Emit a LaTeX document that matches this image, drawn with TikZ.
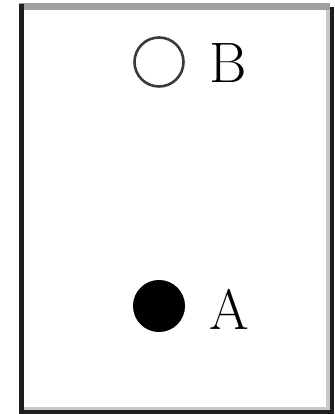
\documentclass[tikz,border=0pt]{standalone}
\usepackage{tikz}
\definecolor{edgedark}{HTML}{1E1E1E}
\definecolor{edgegray}{HTML}{A0A0A0}
\definecolor{edgelight}{HTML}{C8C8C8}
\definecolor{dotline}{HTML}{3A3A3A}
\tikzset{
  frame/.style={draw=edgedark, line width=4.5pt},
  framegray/.style={draw=edgegray, line width=7pt},
  framelight/.style={draw=edgelight, line width=4pt},
  opendot/.style={circle, draw=dotline, fill=white, line width=2.6pt, inner sep=0pt, minimum size=49pt},
  fulldot/.style={circle, draw=black, fill=black, line width=1pt, inner sep=0pt, minimum size=51pt},
  ptname/.style={font=\fontsize{57}{60}\selectfont, text=black, anchor=base west, inner sep=0pt},
}

\begin{document}
\begin{tikzpicture}[x=1pt,y=1pt]
  \useasboundingbox[fill=white] (0,0) rectangle (334,414);
  % box round the points
  \draw[framelight] (328,408) -- (328,5);
  \draw[framelight] (22,5) -- (330,5);
  \draw[frame] (332,407) -- (332,0);
  \draw[frame] (19,2) -- (334,2);
  \draw[framegray] (19,407) -- (330,407);
  \draw[frame] (21.5,410) -- (21.5,0);
  % the two points
  \node[opendot] (b) at (159,352) {};
  \node[fulldot] (a) at (159,108) {};
  \node[ptname] (bname) at (209,331) {B};
  \node[ptname] (aname) at (209,84) {A};
\end{tikzpicture}
\end{document}
